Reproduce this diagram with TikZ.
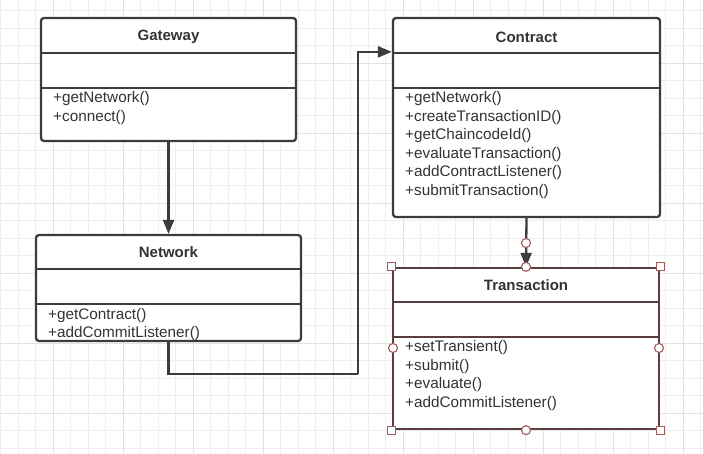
\documentclass[tikz,border=0pt]{standalone}
\usepackage{fontspec}
\setmainfont{Liberation Sans}
\usetikzlibrary{arrows.meta,calc}
\definecolor{lineC}{HTML}{3C3C3C}
\definecolor{txtC}{HTML}{333333}
\definecolor{selC}{HTML}{5A3E3E}
\definecolor{hdlC}{HTML}{A05A5A}
\definecolor{gridMinor}{HTML}{EEEEEE}
\definecolor{gridMajor}{HTML}{E2E2E2}
\tikzset{
  classbox/.style={draw=lineC, line width=2.3pt, fill=white, rounded corners=3pt, inner sep=0pt},
  selbox/.style={draw=selC, line width=2.3pt, fill=white, inner sep=0pt},
  divider/.style={draw=lineC, line width=2.3pt},
  seldivider/.style={draw=selC, line width=2.3pt},
  ctitle/.style={font=\fontsize{15}{18}\selectfont\bfseries, text=txtC, inner sep=0pt},
  meth/.style={font=\fontsize{15.3}{18}\selectfont, text=txtC, inner sep=0pt, anchor=west},
  conn/.style={draw=lineC, line width=2.3pt, -{Triangle[length=14pt,width=11pt]}},
  plainconn/.style={draw=lineC, line width=2.3pt},
  hcircle/.style={draw=hdlC, line width=1.1pt, fill=white},
  hsquare/.style={draw=hdlC, line width=1.1pt, fill=white},
}
\begin{document}
\begin{tikzpicture}[x=1pt,y=-1pt]
\useasboundingbox (0,0) rectangle (703,453);
\fill[white] (0,0) rectangle (703,453);
% grid
\begin{scope}
\clip (0,0) rectangle (703,453);
\foreach \i in {0,...,40} { \draw[gridMinor, line width=0.8pt] (0.8+17.5*\i,0) -- ++(0,453); }
\foreach \j in {0,...,25} { \draw[gridMinor, line width=0.8pt] (0,10.8+17.5*\j) -- ++(703,0); }
\foreach \k in {0,...,9} { \draw[gridMajor, line width=1pt] (53.3+70*\k,0) -- ++(0,453); }
\foreach \k in {0,...,5} { \draw[gridMajor, line width=1pt] (0,63.3+70*\k) -- ++(703,0); }
\end{scope}

% Gateway
\node[classbox, minimum width=255pt, minimum height=123pt] (gw) at (168.5,79.5) {};
\node[ctitle] (gwT) at (168.5,37) {Gateway};
\draw[divider] (41,53) -- (296,53);
\draw[divider] (41,88) -- (296,88);
\node[meth] (gwM1) at (53,99) {+getNetwork()};
\node[meth] (gwM2) at (53,117.5) {+connect()};

% Network
\node[classbox, minimum width=265pt, minimum height=106pt] (net) at (168.5,288) {};
\node[ctitle] (netT) at (168.5,252.5) {Network};
\draw[divider] (36,269) -- (301,269);
\draw[divider] (36,304) -- (301,304);
\node[meth] (netM1) at (48,315.5) {+getContract()};
\node[meth] (netM2) at (48,334) {+addCommitListener()};

% Contract
\node[classbox, minimum width=267pt, minimum height=199pt] (con) at (526.5,117.5) {};
\node[ctitle] (conT) at (526.5,37) {Contract};
\draw[divider] (393,53) -- (660,53);
\draw[divider] (393,88) -- (660,88);
\node[meth] (conM1) at (405,99) {+getNetwork()};
\node[meth] (conM2) at (405,117.5) {+createTransactionID()};
\node[meth] (conM3) at (405,136) {+getChaincodeId()};
\node[meth] (conM4) at (405,154.5) {+evaluateTransaction()};
\node[meth] (conM5) at (405,173) {+addContractListener()};
\node[meth] (conM6) at (405,191.5) {+submitTransaction()};

% Transaction
\node[selbox, minimum width=266pt, minimum height=161pt] (tr) at (526,348.5) {};
\node[ctitle] (trT) at (526,285.5) {Transaction};
\draw[seldivider] (393,302) -- (659,302);
\draw[seldivider] (393,337) -- (659,337);
\node[meth] (trM1) at (405,348) {+setTransient()};
\node[meth] (trM2) at (405,366.5) {+submit()};
\node[meth] (trM3) at (405,385) {+evaluate()};
\node[meth] (trM4) at (405,403.5) {+addCommitListener()};

% connectors
\draw[conn] (gw.south) -- (net.north);
\coordinate (turnA) at (168.5,374);
\coordinate (turnB) at (358,374);
\coordinate (conIn) at ([yshift=-35pt]con.north west);
\draw[plainconn] (net.south) -- (turnA) -- (turnB);
\draw[conn] (turnB) |- (conIn);
\draw[conn] (con.south) -- (tr.north);

% selection handles
\coordinate (hEdge) at (526,243);
\draw[hcircle] (hEdge) circle (4.5pt);
\draw[hcircle] (tr.north) circle (4.5pt);
\draw[hcircle] (tr.south) circle (4.5pt);
\draw[hcircle] (393,348) circle (4.5pt);
\draw[hcircle] (659,348) circle (4.5pt);
\foreach \p in {tr.north west, tr.north east, tr.south west, tr.south east} {
  \draw[hsquare] ([shift={(-4pt,-4pt)}]\p) rectangle ([shift={(4pt,4pt)}]\p);
}
\end{tikzpicture}
\end{document}
